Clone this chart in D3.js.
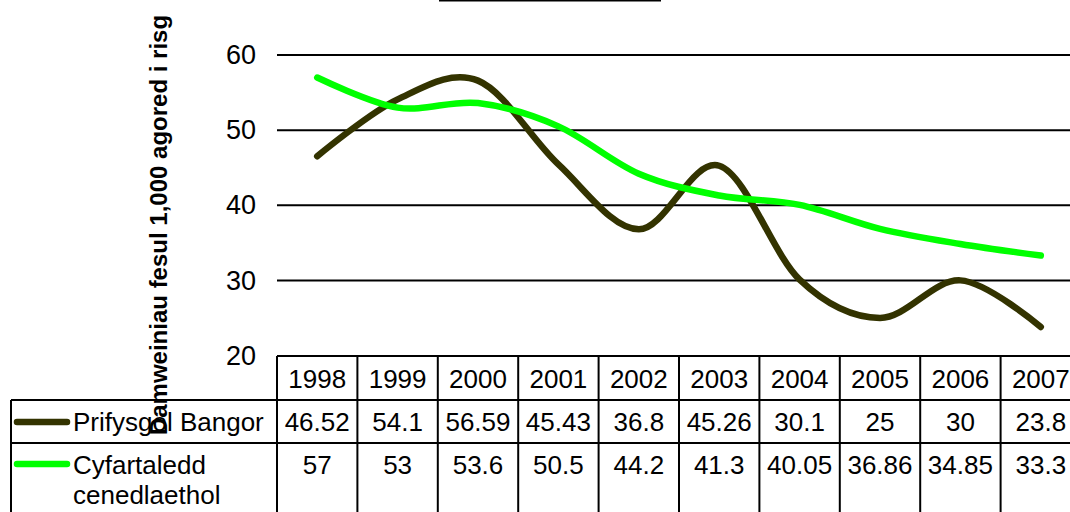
<!DOCTYPE html>
<html>
<head>
<meta charset="utf-8">
<script src="https://cdn.jsdelivr.net/npm/d3@7"></script>
<style>
  html, body { margin: 0; padding: 0; background: #fff; overflow: hidden; }
  svg { display: block; font-family: Arial, "Liberation Sans", sans-serif; }
</style>
</head>
<body>
<svg id="chart" width="1070" height="512"></svg>
<script>
// ---- data ----
const years = [1998, 1999, 2000, 2001, 2002, 2003, 2004, 2005, 2006, 2007];
const bangorValues = [46.52, 54.1, 56.59, 45.43, 36.8, 45.26, 30.1, 25, 30, 23.8];
const nationalValues = [57, 53, 53.6, 50.5, 44.2, 41.3, 40.05, 36.86, 34.85, 33.3];
const seriesNames = ["Prifysgol Bangor", ["Cyfartaledd", "cenedlaethol"]];
const seriesColors = ["#333300", "#00ff00"];
const yTicks = [20, 30, 40, 50, 60];
const yAxisTitle = "Damweiniau fesul 1,000 agored i risg";

// ---- layout ----
const svg = d3.select("#chart");
const plotLeft = 277, plotRight = 1081;
const plotTop = 55, plotBottom = 355.5;
const tableLeft = 11;
const headerTop = 356, row1Top = 400, row2Top = 443, tableBottom = 540;

const x = d3.scaleBand().domain(years).range([plotLeft, plotRight]).padding(0);
const y = d3.scaleLinear().domain([20, 60]).range([plotBottom, plotTop]);
const cx = d => x(d) + x.bandwidth() / 2;

// title underline (title text itself lies above the visible area)
svg.append("line").attr("x1", 439).attr("x2", 661).attr("y1", 0.5).attr("y2", 0.5)
  .attr("stroke", "#000").attr("stroke-width", 2);

// gridlines
svg.append("g").selectAll("line").data(yTicks.filter(t => t !== 20)).join("line")
  .attr("x1", plotLeft).attr("x2", plotRight)
  .attr("y1", d => y(d)).attr("y2", d => y(d))
  .attr("stroke", "#000").attr("stroke-width", 2);

// y axis labels
const yAxis = d3.axisLeft(y).tickValues(yTicks).tickSize(0).tickPadding(21);
const yg = svg.append("g").attr("transform", `translate(${plotLeft},0)`).call(yAxis);
yg.select(".domain").remove();
yg.selectAll("text").attr("font-size", 27).attr("fill", "#000")
  .attr("font-family", "Arial, 'Liberation Sans', sans-serif");

// y axis title
svg.append("text")
  .attr("transform", `translate(167,${225}) rotate(-90)`)
  .attr("text-anchor", "middle")
  .attr("font-size", 24).attr("font-weight", "bold").attr("fill", "#000")
  .text(yAxisTitle);

// lines
const line = d3.line().x((d, i) => cx(years[i])).y(d => y(d)).curve(d3.curveCatmullRom.alpha(0));
[bangorValues, nationalValues].forEach((vals, i) => {
  svg.append("path").datum(vals).attr("d", line)
    .attr("fill", "none").attr("stroke", seriesColors[i]).attr("stroke-width", 6.5)
    .attr("stroke-linecap", "round").attr("stroke-linejoin", "round");
});

// ---- data table ----
const tg = svg.append("g");
const border = (x1, y1, x2, y2) => tg.append("line").attr("x1", x1).attr("y1", y1).attr("x2", x2).attr("y2", y2)
  .attr("stroke", "#000").attr("stroke-width", 2);
border(plotLeft, headerTop, plotRight, headerTop);
border(tableLeft, row1Top, plotRight, row1Top);
border(tableLeft, row2Top, plotRight, row2Top);
border(tableLeft, row1Top, tableLeft, tableBottom);
years.forEach(yr => border(x(yr), headerTop, x(yr), tableBottom));
border(plotRight, headerTop, plotRight, tableBottom);

// header years
tg.selectAll("text.yr").data(years).join("text").attr("class", "yr")
  .attr("x", d => cx(d)).attr("y", 388).attr("text-anchor", "middle")
  .attr("font-size", 26).attr("fill", "#000").text(d => d);

// values
[bangorValues, nationalValues].forEach((vals, i) => {
  const base = i === 0 ? 431 : 474;
  tg.selectAll(`text.v${i}`).data(vals).join("text").attr("class", `v${i}`)
    .attr("x", (d, j) => cx(years[j])).attr("y", base).attr("text-anchor", "middle")
    .attr("font-size", 26).attr("fill", "#000").text(d => String(d));
});

// legend cells
const swatchY = [422, 464];
const labelY = [431, 474];
seriesNames.forEach((name, i) => {
  tg.append("line").attr("x1", 17).attr("x2", 67).attr("y1", swatchY[i]).attr("y2", swatchY[i])
    .attr("stroke", seriesColors[i]).attr("stroke-width", 6.5).attr("stroke-linecap", "round");
  const lines = Array.isArray(name) ? name : [name];
  const t = tg.append("text").attr("x", 73).attr("y", labelY[i]).attr("font-size", 26).attr("fill", "#000");
  lines.forEach((ln, k) => t.append("tspan").attr("x", 73).attr("dy", k === 0 ? 0 : 30).text(ln));
});

// axis title drawn over table as in reference
svg.node().appendChild(svg.select("text[transform]").node());
</script>
</body>
</html>
